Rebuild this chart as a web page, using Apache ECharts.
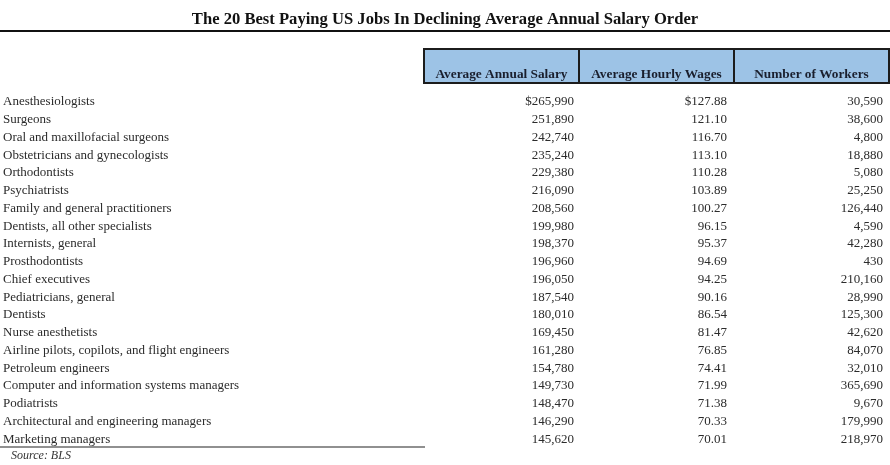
<!DOCTYPE html>
<html>
<head>
<meta charset="utf-8">
<script src="https://cdn.jsdelivr.net/npm/echarts@6/dist/echarts.min.js"></script>
<style>html,body{margin:0;padding:0;background:#fff;}#c{width:890px;height:465px;}</style>
</head>
<body>
<div id="c"></div>
<script>
var titleText = "The 20 Best Paying US Jobs In Declining Average Annual Salary Order";
var headers = ["Average Annual Salary", "Average Hourly Wages", "Number of Workers"];
var jobs = [
  "Anesthesiologists",
  "Surgeons",
  "Oral and maxillofacial surgeons",
  "Obstetricians and gynecologists",
  "Orthodontists",
  "Psychiatrists",
  "Family and general practitioners",
  "Dentists, all other specialists",
  "Internists, general",
  "Prosthodontists",
  "Chief executives",
  "Pediatricians, general",
  "Dentists",
  "Nurse anesthetists",
  "Airline pilots, copilots, and flight engineers",
  "Petroleum engineers",
  "Computer and information systems managers",
  "Podiatrists",
  "Architectural and engineering managers",
  "Marketing managers"
];
var annualSalary = [265990, 251890, 242740, 235240, 229380, 216090, 208560, 199980, 198370, 196960,
  196050, 187540, 180010, 169450, 161280, 154780, 149730, 148470, 146290, 145620];
var hourlyWages = [127.88, 121.10, 116.70, 113.10, 110.28, 103.89, 100.27, 96.15, 95.37, 94.69,
  94.25, 90.16, 86.54, 81.47, 76.85, 74.41, 71.99, 71.38, 70.33, 70.01];
var workers = [30590, 38600, 4800, 18880, 5080, 25250, 126440, 4590, 42280, 430,
  210160, 28990, 125300, 42620, 84070, 32010, 365690, 9670, 179990, 218970];
var sourceText = "Source: BLS";

var FONT = '"Liberation Serif", "Times New Roman", serif';
var TEXT_COLOR = '#2b2b2b';
var colRight = [574, 727, 883];
var boxLeft = 424, boxRight = 889, colDiv = [579, 734], boxTop = 49, boxBottom = 83;

function fmtInt(v) { return v.toLocaleString('en-US'); }

var rows = jobs.map(function (j, i) {
  return [0, i, annualSalary[i], hourlyWages[i], workers[i]];
});

var chart = echarts.init(document.getElementById('c'), null, {renderer: 'canvas'});

var graphics = [
  {type: 'line', shape: {x1: 0, y1: 31, x2: 890, y2: 31}, style: {stroke: '#111', lineWidth: 2}},
  {type: 'rect', shape: {x: boxLeft, y: boxTop, width: boxRight - boxLeft, height: boxBottom - boxTop},
    style: {fill: '#9dc3e6', stroke: '#1c1c1c', lineWidth: 2}},
  {type: 'line', shape: {x1: colDiv[0], y1: boxTop, x2: colDiv[0], y2: boxBottom}, style: {stroke: '#1c1c1c', lineWidth: 2}},
  {type: 'line', shape: {x1: colDiv[1], y1: boxTop, x2: colDiv[1], y2: boxBottom}, style: {stroke: '#1c1c1c', lineWidth: 2}},
  {type: 'line', shape: {x1: 0, y1: 447, x2: 425, y2: 447}, style: {stroke: '#222', lineWidth: 1.2}},
  {type: 'text', left: 11, top: 450, style: {text: sourceText, fontFamily: FONT, fontSize: 12, fontStyle: 'italic', fill: '#333'}}
];
var edges = [boxLeft, colDiv[0], colDiv[1], boxRight];
headers.forEach(function (h, k) {
  graphics.push({type: 'text', x: (edges[k] + edges[k + 1]) / 2, y: 75,
    style: {text: h, fontFamily: FONT, fontSize: 13.3, fontWeight: 'bold', fill: '#1a1f2e', align: 'center', verticalAlign: 'middle'}});
});

chart.setOption({
  animation: false,
  backgroundColor: '#fff',
  title: {
    text: titleText, left: 'center', top: 6,
    textStyle: {fontFamily: FONT, fontSize: 16.6, fontWeight: 'bold', color: '#111'}
  },
  grid: {left: 0, right: 0, top: 92, bottom: 18},
  xAxis: {type: 'value', min: 0, max: 1, show: false},
  yAxis: {
    type: 'category', data: jobs, inverse: true,
    axisLine: {show: false}, axisTick: {show: false}, splitLine: {show: false},
    axisLabel: {show: false}
  },
  graphic: graphics,
  series: [{
    type: 'custom',
    data: rows,
    encode: {x: 0, y: 1},
    renderItem: function (params, api) {
      var i = api.value(1);
      var y = api.coord([0, i])[1] + 1;
      var sal = fmtInt(api.value(2));
      var hr = api.value(3).toFixed(2);
      if (i === 0) { sal = '$' + sal; hr = '$' + hr; }
      var wk = fmtInt(api.value(4));
      var texts = [sal, hr, wk];
      var children = [{type: 'text', style: {text: jobs[i], x: 3, y: y, align: 'left', verticalAlign: 'middle',
        fontFamily: FONT, fontSize: 13, fill: TEXT_COLOR}}];
      texts.forEach(function (t, k) {
        children.push({type: 'text', style: {text: t, x: colRight[k], y: y, align: 'right', verticalAlign: 'middle',
          fontFamily: FONT, fontSize: 13, fill: TEXT_COLOR}});
      });
      return {type: 'group', children: children};
    }
  }]
});
</script>
</body>
</html>
